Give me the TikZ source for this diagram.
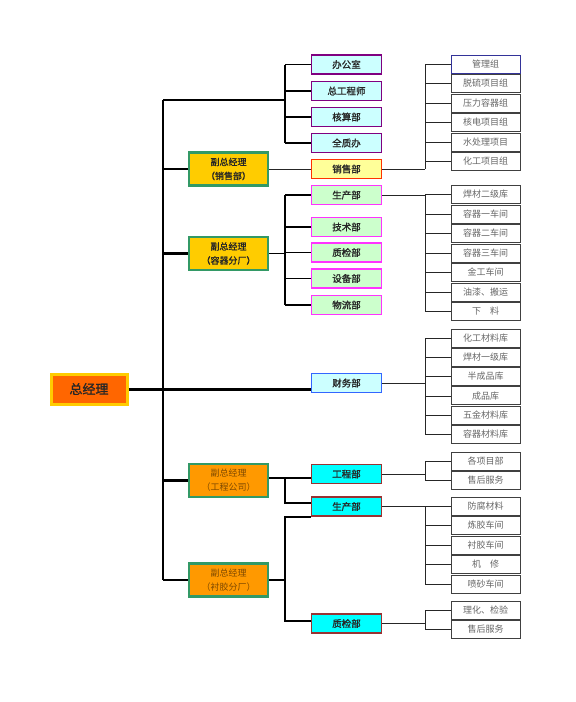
\documentclass[tikz,border=0pt]{standalone}
\usepackage{fontspec}
\newfontfamily\cjk{Noto Sans CJK SC}
\newfontfamily\cjkb[FakeBold=1.2]{Noto Sans CJK SC}
\definecolor{cyanl}{HTML}{CCFFFF}
\definecolor{purp}{HTML}{800080}
\definecolor{greenl}{HTML}{CCFFCC}
\definecolor{magen}{HTML}{FF33FF}
\definecolor{yell}{HTML}{FFFF99}
\definecolor{redb}{HTML}{FF3300}
\definecolor{blueb}{HTML}{3366FF}
\definecolor{cyanf}{HTML}{00FFFF}
\definecolor{brownb}{HTML}{993333}
\definecolor{gold}{HTML}{FFCC00}
\definecolor{greenb}{HTML}{339966}
\definecolor{orng}{HTML}{FF9900}
\definecolor{orngd}{HTML}{FF6600}
\definecolor{browntext}{HTML}{7F4A00}
\definecolor{navyb}{HTML}{333399}
\begin{document}
\begin{tikzpicture}[x=1pt,y=-1pt,
  box/.style={draw, minimum width=70pt, minimum height=19pt, inner sep=0pt,
    line width=1.6pt, font=\cjkb\fontsize{9.5}{12}\selectfont, text=black!85},
  topbox/.style={box, fill=cyanl, draw=purp},
  greenbox/.style={box, fill=greenl, draw=magen},
  xsbbox/.style={box, fill=yell, draw=redb},
  cwbbox/.style={box, fill=cyanl, draw=blueb},
  cyanbox/.style={box, fill=cyanf, draw=brownb},
  vpa/.style={draw=greenb, fill=gold, line width=2.5pt, minimum width=79pt,
    minimum height=33pt, inner sep=0pt, align=center,
    font=\cjkb\fontsize{9}{14}\selectfont, text=black!85},
  vpb/.style={vpa, fill=orng, font=\cjk\fontsize{9}{14}\selectfont, text=browntext},
  leaf/.style={draw=black!75, fill=white, line width=1pt, minimum width=69pt,
    minimum height=18pt, inner sep=0pt, font=\cjk\fontsize{9}{11}\selectfont, text=black!60},
  trunk/.style={line width=2.2pt, black},
  br/.style={line width=1.5pt, black},
  rb/.style={line width=0.8pt, black!85},
  thinl/.style={line width=1pt, black!85}
]
\useasboundingbox (0,0) rectangle (576,702);

% general manager
\node[draw=gold, fill=orngd, line width=3pt, minimum width=76pt, minimum height=30pt,
  inner sep=0pt, font=\cjkb\fontsize{13}{15}\selectfont, text=black!85] (zjl) at (89,389) {总经理};

% vice managers
\node[vpa] (vp1) at (228.5,169) {副总经理\\（销售部）};
\node[vpa] (vp2) at (228.5,253.5) {副总经理\\（容器分厂）};
\node[vpb] (vp3) at (228.5,480.5) {副总经理\\（工程公司）};
\node[vpb] (vp4) at (228.5,580) {副总经理\\（衬胶分厂）};

% departments
\node[topbox] (bgs) at (346.5,64.5) {办公室};
\node[topbox] (zgcs) at (346.5,91) {总工程师};
\node[topbox] (hsb) at (346.5,117) {核算部};
\node[topbox] (qzb) at (346.5,143) {全质办};
\node[xsbbox] (xsb) at (346.5,169) {销售部};
\node[greenbox] (scb) at (346.5,195) {生产部};
\node[greenbox] (jsb) at (346.5,227) {技术部};
\node[greenbox] (zjb) at (346.5,252.5) {质检部};
\node[greenbox] (sbb) at (346.5,278.5) {设备部};
\node[greenbox] (wlb) at (346.5,305) {物流部};
\node[cwbbox] (cwb) at (346.5,383) {财务部};
\node[cyanbox] (gcb) at (346.5,474) {工程部};
\node[cyanbox] (scb2) at (346.5,506.5) {生产部};
\node[cyanbox] (zjb2) at (346.5,623.5) {质检部};

% leaves
\foreach \t [count=\i] in {管理组,脱硫项目组,压力容器组,核电项目组,水处理项目,化工项目组}
  \node[leaf] (a\i) at (485.5,{44.5+19.5*\i}) {\t};
\node[leaf, draw=navyb] at (a1) {管理组};
\foreach \t [count=\i] in {焊材二级库,容器一车间,容器二车间,容器三车间,金工车间,{油漆、搬运},{下\quad 料}}
  \node[leaf] (b\i) at (485.5,{175+19.5*\i}) {\t};
\foreach \t [count=\i] in {化工材料库,焊材一级库,半成品库,成品库,五金材料库,容器材料库}
  \node[leaf] (c\i) at (485.5,{318.7+19.3*\i}) {\t};
\foreach \t [count=\i] in {各项目部,售后服务}
  \node[leaf] (d\i) at (485.5,{442+19*\i}) {\t};
\foreach \t [count=\i] in {防腐材料,炼胶车间,衬胶车间,{机\quad 修},喷砂车间}
  \node[leaf] (e\i) at (485.5,{486.5+19.5*\i}) {\t};
\foreach \t [count=\i] in {{理化、检验},售后服务}
  \node[leaf] (f\i) at (485.5,{591.5+19*\i}) {\t};

% trunk and left connectors
\coordinate (tt) at (163,100);
\coordinate (tb) at (163,580);
\coordinate (lb) at (285,100);
\draw[trunk] (tt) -- (tb);
\draw[trunk] (tt) -- (lb);
\draw[br] (bgs.west -| lb) -- (qzb.west -| lb);
\foreach \n in {bgs,zgcs,hsb,qzb} \draw[br] (\n.west) -- (\n.west -| lb);
\draw[trunk] (vp1.west) -- (vp1.west -| tt);
\draw[thinl] (vp1.east) -- (xsb.west);
\draw[trunk] (vp2.west) -- (vp2.west -| tt);
\draw[br] (vp2.east) -- (vp2.east -| lb);
\draw[br] (scb.west -| lb) -- (wlb.west -| lb);
\foreach \n in {scb,jsb,zjb,sbb,wlb} \draw[br] (\n.west) -- (\n.west -| lb);
\draw[line width=3pt] (zjl.east) -- (zjl.east -| cwb.west);
\draw[trunk] (vp3.west) -- (vp3.west -| tt);
\coordinate (j3) at (285,478);
\coordinate (j3b) at (285,503);
\draw[br] (vp3.east |- j3) -- (j3) -- (gcb.west |- j3);
\draw[br] (j3) -- (j3b) -- (scb2.west |- j3b);
\draw[trunk] (vp4.west) -- (tb);
\coordinate (j4a) at (285,517);
\coordinate (j4b) at (285,621);
\draw[br] (vp4.east) -- (vp4.east -| j4a);
\draw[br] (scb2.west |- j4a) -- (j4a) -- (j4b) -- (zjb2.west |- j4b);

% right connectors
\coordinate (ra) at (425,0);
\draw[rb] (xsb.east) -- (ra |- xsb.east);
\draw[rb] (a1.west -| ra) -- (ra |- xsb.east);
\foreach \i in {1,...,6} \draw[rb] (a\i.west) -- (a\i.west -| ra);
\draw[rb] (scb.east) -- (ra |- scb.east);
\draw[rb] (b1.west -| ra) -- (b7.west -| ra);
\foreach \i in {1,...,7} \draw[rb] (b\i.west) -- (b\i.west -| ra);
\draw[rb] (cwb.east) -- (ra |- cwb.east);
\draw[rb] (c1.west -| ra) -- (c6.west -| ra);
\foreach \i in {1,...,6} \draw[rb] (c\i.west) -- (c\i.west -| ra);
\draw[rb] (gcb.east) -- (ra |- gcb.east);
\draw[rb] (d1.west -| ra) -- (d2.west -| ra);
\foreach \i in {1,2} \draw[rb] (d\i.west) -- (d\i.west -| ra);
\draw[rb] (scb2.east) -- (ra |- scb2.east);
\draw[rb] (e1.west -| ra) -- (e5.west -| ra);
\foreach \i in {1,...,5} \draw[rb] (e\i.west) -- (e\i.west -| ra);
\draw[rb] (zjb2.east) -- (ra |- zjb2.east);
\draw[rb] (f1.west -| ra) -- (f2.west -| ra);
\foreach \i in {1,2} \draw[rb] (f\i.west) -- (f\i.west -| ra);
\end{tikzpicture}
\end{document}
